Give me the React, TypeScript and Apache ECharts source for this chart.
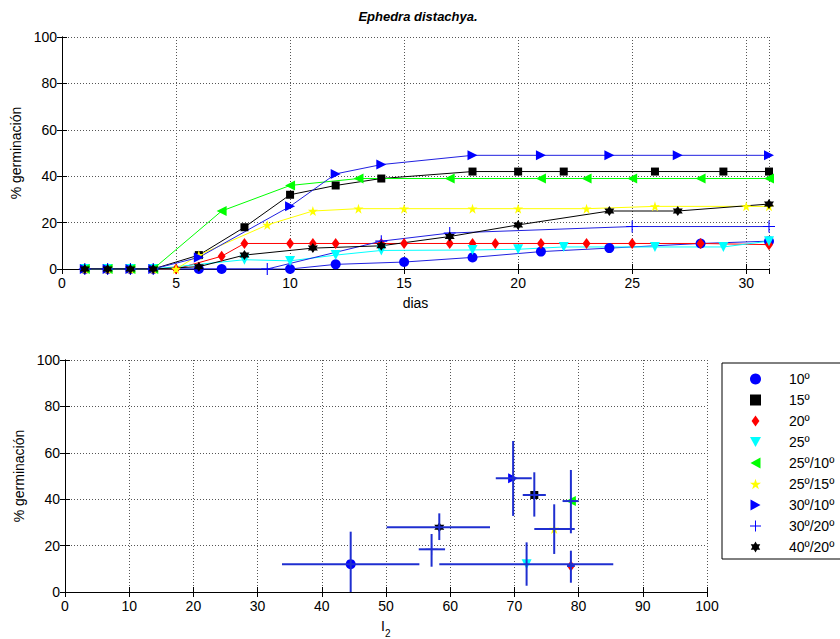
import React, { useEffect, useRef } from "react";
import * as echarts from "echarts";

// ---------- data ----------
const seriesNames = ["10º", "15º", "20º", "25º", "25º/10º", "25º/15º", "30º/10º", "30º/20º", "40º/20º"];

const xTicksTop = [0, 5, 10, 15, 20, 25, 30];
const yTicks = [0, 20, 40, 60, 80, 100];
const xTicksBottom = [0, 10, 20, 30, 40, 50, 60, 70, 80, 90, 100];

const days10 = [1, 2, 3, 4, 6, 7, 10, 12, 15, 18, 21, 24, 28, 31];
const germ10 = [0, 0, 0, 0, 0, 0, 0, 2, 3, 5, 7.5, 9, 11, 12];
const days15 = [1, 2, 3, 4, 6, 8, 10, 12, 14, 18, 20, 22, 26, 29, 31];
const germ15 = [0, 0, 0, 0, 6, 18, 32, 36, 39, 42, 42, 42, 42, 42, 42];
const days20 = [1, 2, 3, 4, 5, 7, 8, 10, 11, 12, 14, 15, 17, 18, 19, 21, 23, 25, 28, 31];
const germ20 = [0, 0, 0, 0, 0, 5.5, 11, 11, 11, 11, 11, 11, 11, 11, 11, 11, 11, 11, 11, 10.5];
const days25 = [1, 2, 3, 4, 8, 10, 12, 14, 18, 20, 22, 26, 29, 31];
const germ25 = [0, 0, 0, 0, 4, 3.5, 6, 8, 8.2, 8.5, 9.5, 9.5, 9.5, 12];
const days25_10 = [1, 2, 3, 4, 7, 10, 13, 17, 21, 23, 25, 28, 31];
const germ25_10 = [0, 0, 0, 0, 25, 36, 39, 39, 39, 39, 39, 39, 39];
const days25_15 = [1, 2, 3, 4, 5, 6, 9, 11, 13, 15, 18, 20, 23, 26, 30, 31];
const germ25_15 = [0, 0, 0, 0, 0, 6, 19, 25, 26, 26, 26, 26, 26, 27, 27, 27];
const days30_10 = [1, 2, 3, 4, 6, 10, 12, 14, 18, 21, 24, 27, 31];
const germ30_10 = [0, 0, 0, 0, 5, 27, 41, 45, 49, 49, 49, 49, 49];
const days30_20 = [1, 2, 3, 4, 9, 14, 17, 25, 31];
const germ30_20 = [0, 0, 0, 0, 0, 12, 15.5, 18.3, 18.3];
const days40_20 = [1, 2, 3, 4, 6, 8, 11, 14, 17, 20, 24, 27, 31];
const germ40_20 = [0, 0, 0, 0, 1, 6, 9, 10, 14, 19, 25, 25, 28];

// bottom panel: I2 vs final germination, with error bars
const i2Mean = [44.5, 73.1, 78.8, 71.9, 78.8, 76.2, 69.8, 57.1, 58.3];
const i2Low = [33.8, 71.3, 78.2, 58.3, 77.5, 73.1, 67.1, 55.1, 50.1];
const i2High = [55.2, 74.9, 79.4, 85.4, 80.0, 79.4, 72.7, 59.2, 66.2];
const germMean = [12, 41.8, 11.2, 12, 39.2, 27.2, 49, 18.4, 27.9];
const germLow = [-2, 32.5, 4, 2.7, 25.3, 16.4, 32.8, 10.9, 22.4];
const germHigh = [26, 51.6, 17.8, 21.4, 52.6, 37.8, 65.1, 25, 33.9];

// ---------- styles ----------
const markerColors = ["#0000ff", "#000000", "#ff0000", "#00ffff", "#00ff00", "#ffff00", "#0000ff", "#0000ff", "#000000"];
const lineColors = ["#2020e0", "#000000", "#ff0000", "#00ffff", "#00ff00", "#ffff00", "#2020e0", "#2020e0", "#000000"];

const SQUARE = "path://M-5,-5 L5,-5 L5,5 L-5,5 Z";
const DIAMOND = "path://M0,-7 L5,0 L0,7 L-5,0 Z";
const TRI_DOWN = "path://M-5.5,-4.5 L5.5,-4.5 L0,5.5 Z";
const TRI_LEFT = "path://M-5.5,0 L4.5,-5.5 L4.5,5.5 Z";
const TRI_RIGHT = "path://M5.5,0 L-4.5,-5.5 L-4.5,5.5 Z";
const PENTAGRAM =
  "path://M0,-10 L2.245,-3.09 L9.51,-3.09 L3.633,1.18 L5.878,8.09 L0,3.82 L-5.878,8.09 L-3.633,1.18 L-9.51,-3.09 L-2.245,-3.09 Z";
const HEXAGRAM =
  "path://M0,-10 L2.887,-5 L8.66,-5 L5.774,0 L8.66,5 L2.887,5 L0,10 L-2.887,5 L-8.66,5 L-5.774,0 L-8.66,-5 L-2.887,-5 Z";
const PLUS =
  "path://M-0.9,-10 L0.9,-10 L0.9,-0.9 L10,-0.9 L10,0.9 L0.9,0.9 L0.9,10 L-0.9,10 L-0.9,0.9 L-10,0.9 L-10,-0.9 L-0.9,-0.9 Z";

const symbols: { symbol: string; size: number | number[] }[] = [
  { symbol: "circle", size: 10 },
  { symbol: SQUARE, size: 8 },
  { symbol: DIAMOND, size: [8, 11] },
  { symbol: TRI_DOWN, size: 10 },
  { symbol: TRI_LEFT, size: 10 },
  { symbol: PENTAGRAM, size: 10 },
  { symbol: TRI_RIGHT, size: 10 },
  { symbol: PLUS, size: 12 },
  { symbol: HEXAGRAM, size: 10 },
];

const FONT = "Liberation Sans, Arial, Helvetica, sans-serif";

export default function App() {
  const ref = useRef<HTMLDivElement>(null);

  useEffect(() => {
    if (!ref.current) return;
    const chart = echarts.init(ref.current, undefined, { renderer: "svg" });

    const topDays = [days10, days15, days20, days25, days25_10, days25_15, days30_10, days30_20, days40_20];
    const topGerm = [germ10, germ15, germ20, germ25, germ25_10, germ25_15, germ30_10, germ30_20, germ40_20];

    const gridLine = { show: true, lineStyle: { color: "#555", type: [1, 2] as any, width: 1 } };
    const axisLineBlack = { show: true, lineStyle: { color: "#000", width: 1 } };
    const tickIn = { show: true, inside: true, length: 5, lineStyle: { color: "#000" } };
    const labelStyle = { color: "#000", fontSize: 14, fontFamily: FONT };

    const mkX = (gridIndex: number, ticks: number[], max: number, pos: "top" | "bottom", main: boolean, name?: any) => ({
      type: "value",
      gridIndex,
      position: pos,
      min: ticks[0],
      max,
      interval: ticks[1] - ticks[0],
      axisLine: axisLineBlack,
      axisTick: tickIn,
      axisLabel: main ? { ...labelStyle, margin: 7, showMaxLabel: max === ticks[ticks.length - 1] } : { show: false },
      splitLine: main ? gridLine : { show: false },
      ...(name || {}),
    });
    const mkY = (gridIndex: number, pos: "left" | "right", main: boolean, nameGap: number) => ({
      type: "value",
      gridIndex,
      position: pos,
      min: yTicks[0],
      max: yTicks[yTicks.length - 1],
      interval: yTicks[1] - yTicks[0],
      axisLine: axisLineBlack,
      axisTick: tickIn,
      axisLabel: main ? { ...labelStyle, margin: 5 } : { show: false },
      splitLine: main ? gridLine : { show: false },
      ...(main
        ? {
            name: "% germinación",
            nameLocation: "middle",
            nameGap,
            nameTextStyle: { color: "#000", fontSize: 14, fontFamily: FONT },
          }
        : {}),
    });

    const scatterSeries = seriesNames.map((n, i) => ({
      type: "scatter",
      name: n,
      xAxisIndex: 2,
      yAxisIndex: 2,
      data: [[i2Mean[i], germMean[i]]],
      symbol: symbols[i].symbol,
      symbolSize: symbols[i].size,
      itemStyle: { color: markerColors[i], opacity: 1 },
      silent: true,
      z: 2,
    }));

    const errData = seriesNames.map((_, i) => [i2Mean[i], germMean[i], i2Low[i], i2High[i], germLow[i], germHigh[i]]);

    const errorSeries = {
      type: "custom",
      name: "errorbars",
      xAxisIndex: 2,
      yAxisIndex: 2,
      clip: true,
      silent: true,
      z: 3,
      encode: { x: 0, y: 1 },
      data: errData,
      renderItem: (params: any, api: any) => {
        const x = api.value(0);
        const y = api.value(1);
        const a = api.coord([api.value(2), y]);
        const b = api.coord([api.value(3), y]);
        const c = api.coord([x, api.value(4)]);
        const d = api.coord([x, api.value(5)]);
        const style = { stroke: "#1f2fd0", lineWidth: 2 };
        return {
          type: "group",
          children: [
            { type: "line", shape: { x1: a[0], y1: a[1], x2: b[0], y2: b[1] }, style },
            { type: "line", shape: { x1: c[0], y1: c[1], x2: d[0], y2: d[1] }, style },
          ],
        };
      },
    };

    const lineSeries = seriesNames.map((n, i) => ({
      type: "line",
      name: n,
      xAxisIndex: 0,
      yAxisIndex: 0,
      data: topDays[i].map((d, j) => [d, topGerm[i][j]]),
      symbol: symbols[i].symbol,
      symbolSize: symbols[i].size,
      showAllSymbol: true,
      itemStyle: { color: markerColors[i], opacity: 1 },
      lineStyle: { color: lineColors[i], width: 1 },
      silent: true,
    }));

    const option: any = {
      animation: false,
      textStyle: { fontFamily: FONT },
      graphic: [
        {
          type: "text",
          x: 418,
          y: 10,
          style: {
            text: "Ephedra distachya.",
            font: "italic bold 13px " + FONT,
            fill: "#000",
            textAlign: "center",
          },
        },
      ],
      grid: [
        { left: 62, top: 37, width: 707, height: 232, containLabel: false, outerBoundsMode: "none" },
        { left: 65, top: 360, width: 642, height: 232, containLabel: false, outerBoundsMode: "none" },
      ],
      xAxis: [
        mkX(0, xTicksTop, 31, "bottom", true, {
          name: "dias",
          nameLocation: "middle",
          nameGap: 27,
          nameTextStyle: { color: "#000", fontSize: 14, fontFamily: FONT },
        }),
        mkX(0, xTicksTop, 31, "top", false),
        mkX(1, xTicksBottom, 100, "bottom", true, {
          name: "{a|I}{b|2}{c| }",
          nameLocation: "middle",
          nameGap: 27,
          nameTextStyle: {
            color: "#000",
            fontFamily: FONT,
            rich: {
              a: { fontSize: 14, fontFamily: FONT, color: "#000", verticalAlign: "top", lineHeight: 14 },
              b: { fontSize: 10, fontFamily: FONT, color: "#000", verticalAlign: "bottom", lineHeight: 10 },
              c: { fontSize: 2, fontFamily: FONT, color: "#000", verticalAlign: "bottom", lineHeight: 19 },
            },
          },
        }),
        mkX(1, xTicksBottom, 100, "top", false),
      ],
      yAxis: [mkY(0, "left", true, 36), mkY(0, "right", false, 0), mkY(1, "left", true, 39), mkY(1, "right", false, 0)],
      legend: {
        show: true,
        orient: "vertical",
        left: 722,
        top: 363,
        selectedMode: false,
        data: seriesNames,
        itemWidth: 11,
        itemHeight: 11,
        itemGap: 5,
        symbolKeepAspect: true,
        padding: [8, 30, 4, 28],
        borderColor: "#000",
        borderWidth: 1,
        backgroundColor: "#fff",
        textStyle: { color: "#000", fontSize: 14, fontFamily: FONT, lineHeight: 16, padding: [0, 0, 0, 23] },
      },
      series: [...scatterSeries, errorSeries, ...lineSeries],
    };

    chart.setOption(option);
    return () => chart.dispose();
  }, []);

  return (
    <div style={{ position: "fixed", left: 0, top: 0, width: 840, height: 639, overflow: "hidden", background: "#fff" }}>
      <div ref={ref} style={{ width: 900, height: 639 }} />
    </div>
  );
}
